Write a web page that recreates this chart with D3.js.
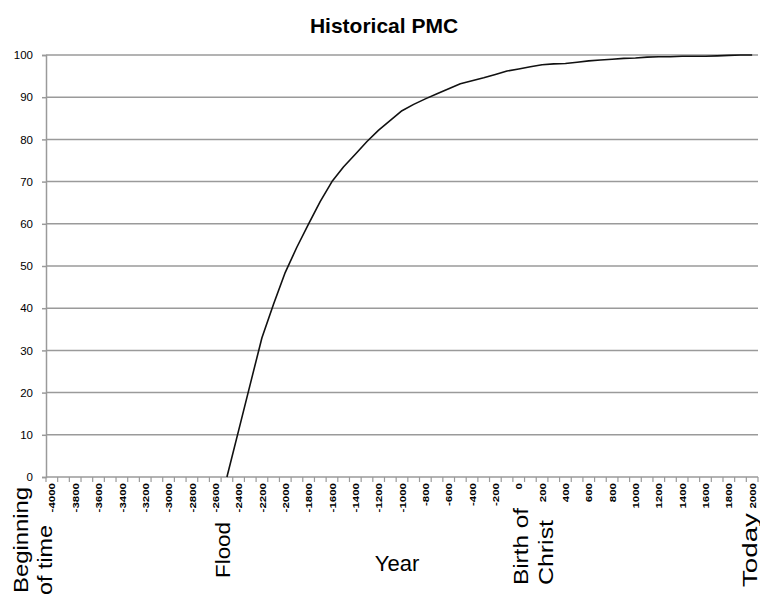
<!DOCTYPE html>
<html><head><meta charset="utf-8">
<script src="https://cdn.jsdelivr.net/npm/d3@7"></script>
<style>
html,body{margin:0;padding:0;background:#fff;}
svg{display:block;font-family:"Liberation Sans",Arial,sans-serif;}
</style></head>
<body><svg id="c" width="760" height="595"></svg>
<script>
const categories = [-4000,-3900,-3800,-3700,-3600,-3500,-3400,-3300,-3200,-3100,-3000,-2900,-2800,-2700,-2600,
 -2500,-2400,-2300,-2200,-2100,-2000,-1900,-1800,-1700,-1600,-1500,-1400,-1300,-1200,-1100,-1000,
 -900,-800,-700,-600,-500,-400,-300,-200,-100,0,100,200,300,400,500,600,700,800,900,1000,
 1100,1200,1300,1400,1500,1600,1700,1800,1900,2000];
const pmc = [null,null,null,null,null,null,null,null,null,null,null,null,null,null,null,
 0,11,22,33,41,48.5,54.5,60,65.3,70,73.5,76.5,79.5,82.2,84.5,86.8,
 88.3,89.6,90.8,92,93.2,93.9,94.6,95.4,96.2,96.7,97.2,97.7,97.9,98.0,98.3,98.6,98.8,99.0,99.2,99.3,
 99.5,99.6,99.6,99.7,99.7,99.7,99.8,99.9,100,100];
const yTicks = [0,10,20,30,40,50,60,70,80,90,100];
const labelEvery = 2;
const title = "Historical PMC";
const axisTitle = "Year";
const notes = [
  {text:"Beginning", cx:20, bottom:593, len:106},
  {text:"of time", cx:44, bottom:595, len:70},
  {text:"Flood", cx:222, bottom:578, len:56},
  {text:"Birth of", cx:520, bottom:585, len:77},
  {text:"Christ", cx:545, bottom:585, len:65},
  {text:"Today", cx:749, bottom:587, len:74}
];

const svg = d3.select("#c");
const L=46, R=758, T=55, B=477;
const x = d3.scaleBand().domain(categories).range([L,R]).padding(0);
const y = d3.scaleLinear().domain([0,100]).range([B,T]);
const bw = x.bandwidth();

// gridlines
svg.append("g").selectAll("line").data(yTicks.filter(d=>d>0)).join("line")
  .attr("x1",L).attr("x2",R).attr("y1",d=>y(d)).attr("y2",d=>y(d))
  .attr("stroke","#9a9a9a").attr("stroke-width",1.5);

// y axis
const ya = svg.append("g").attr("transform",`translate(${L},0)`)
  .call(d3.axisLeft(y).tickValues(yTicks).tickSize(4).tickPadding(9));
ya.select(".domain").attr("stroke","#9a9a9a").attr("stroke-width",1.5);
ya.selectAll(".tick line").attr("stroke","#9a9a9a").attr("stroke-width",1.5);
ya.selectAll(".tick text").attr("font-size","11.5px").attr("fill","#000")
  .attr("font-family","'Liberation Sans',Arial,sans-serif");

// x axis line
svg.append("line").attr("x1",L).attr("x2",R).attr("y1",B).attr("y2",B)
  .attr("stroke","#9a9a9a").attr("stroke-width",1.5);
// x ticks at category boundaries
const bounds = categories.map(c=>x(c)).concat([x(categories[categories.length-1])+bw]);
svg.append("g").selectAll("line").data(bounds).join("line")
  .attr("x1",d=>d).attr("x2",d=>d).attr("y1",B).attr("y2",B+5)
  .attr("stroke","#9a9a9a").attr("stroke-width",1.2);
// x labels
svg.append("g").selectAll("text").data(categories.filter((c,i)=>i%labelEvery===0)).join("text")
  .attr("transform",c=>`translate(${x(c)+bw/2},483) rotate(-90) scale(1,0.85)`)
  .attr("text-anchor","end").attr("dominant-baseline","central")
  .attr("font-size","11.5px").attr("font-weight","bold").attr("fill","#000")
  .text(d=>String(d));

// line
const line = d3.line().defined(d=>d[1]!==null)
  .x(d=>x(d[0])+bw/2).y(d=>y(d[1]));
svg.append("path").datum(categories.map((c,i)=>[c,pmc[i]]))
  .attr("d",line).attr("fill","none").attr("stroke","#111").attr("stroke-width",1.6)
  .attr("stroke-linejoin","round");

// title
svg.append("text").attr("x",384).attr("y",33).attr("text-anchor","middle")
  .attr("font-size","21px").attr("font-weight","bold").attr("fill","#000").text(title);

// axis title
svg.append("text").attr("x",397).attr("y",571).attr("text-anchor","middle")
  .attr("font-size","22px").attr("fill","#000").text(axisTitle);

// annotations
svg.append("g").selectAll("text").data(notes).join("text")
  .attr("transform",d=>`translate(${d.cx},${d.bottom}) rotate(-90)`)
  .attr("text-anchor","start").attr("dominant-baseline","central")
  .attr("font-size","21px").attr("fill","#000")
  .attr("textLength",d=>d.len).attr("lengthAdjust","spacingAndGlyphs")
  .text(d=>d.text);
</script></body></html>
